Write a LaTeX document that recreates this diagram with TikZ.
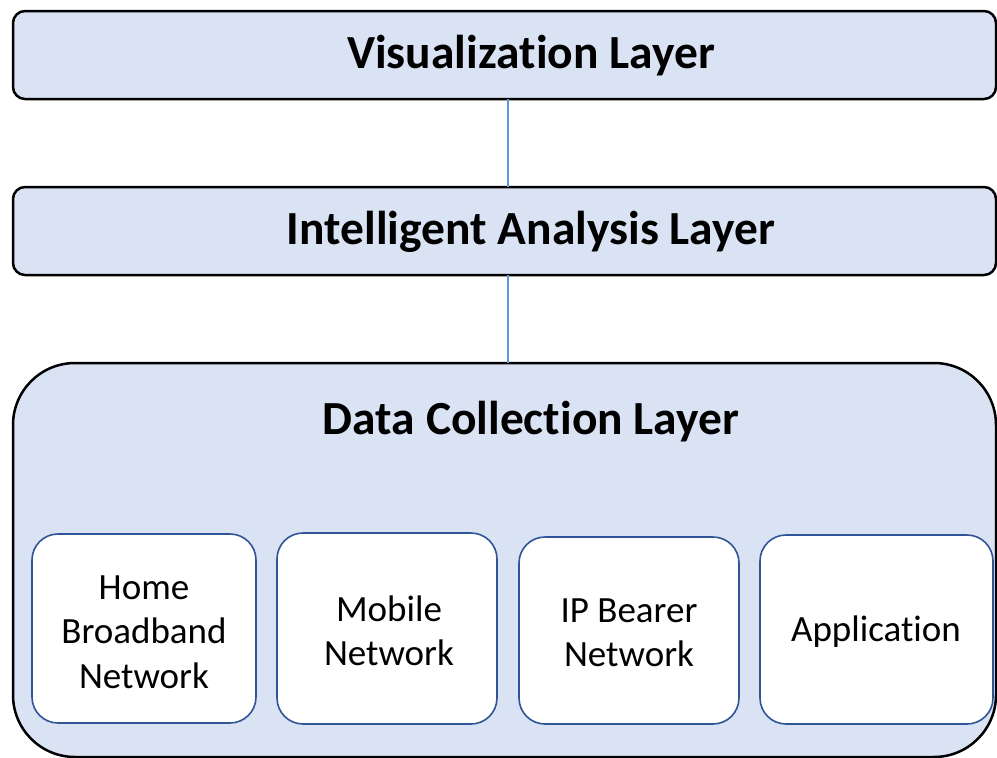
\documentclass[tikz,border=0pt]{standalone}
\usepackage{fontspec}
\setmainfont[Ligatures=NoCommon]{Carlito}
\definecolor{layerfill}{HTML}{DAE3F3}
\definecolor{linkblue}{HTML}{5B9BD5}
\definecolor{srcedge}{HTML}{2F5597}
\begin{document}
\begin{tikzpicture}[x=1pt,y=-1pt,
  layerbox/.style={draw=black,line width=2.5pt,fill=layerfill,rounded corners=12pt},
  srcbox/.style={draw=srcedge,line width=1.6pt,fill=white,rounded corners=26pt},
  titletext/.style={font=\fontsize{47.5}{56}\selectfont\bfseries},
  srctext/.style={font=\fontsize{37}{44.5}\selectfont,align=center},
  link/.style={draw=linkblue,line width=1.5pt}]
\useasboundingbox (0,0) rectangle (997,758);
% layer frames
\draw[layerbox] (13,11) rectangle (996,99);
\draw[layerbox] (13,187) rectangle (996,275);
\draw[layerbox,rounded corners=62pt] (13,363) rectangle (996,757);
\coordinate (visB) at (508,99);
\coordinate (anaT) at (508,187);
\coordinate (anaB) at (508,275);
\coordinate (dataT) at (508,363);
\draw[link] (visB) -- (anaT);
\draw[link] (anaB) -- (dataT);
% layer titles
\node[titletext] (vis) at (531,56) {Visualization Layer};
\node[titletext] (ana) at (531,232) {Intelligent Analysis Layer};
\node[titletext] (data) at (531,422) {Data Collection Layer};
% data sources
\draw[srcbox] (32,534) rectangle (256,723);
\draw[srcbox] (277,533) rectangle (497,724);
\draw[srcbox] (519,537) rectangle (739,724);
\draw[srcbox] (760,535) rectangle (993,724);
\node[srctext] (home) at (144,632) {Home\\Broadband\\Network};
\node[srctext] (mob) at (389,631) {Mobile\\Network};
\node[srctext] (ip) at (629,633) {IP Bearer\\Network};
\node[srctext] (app) at (876,632) {Application};
\end{tikzpicture}
\end{document}
